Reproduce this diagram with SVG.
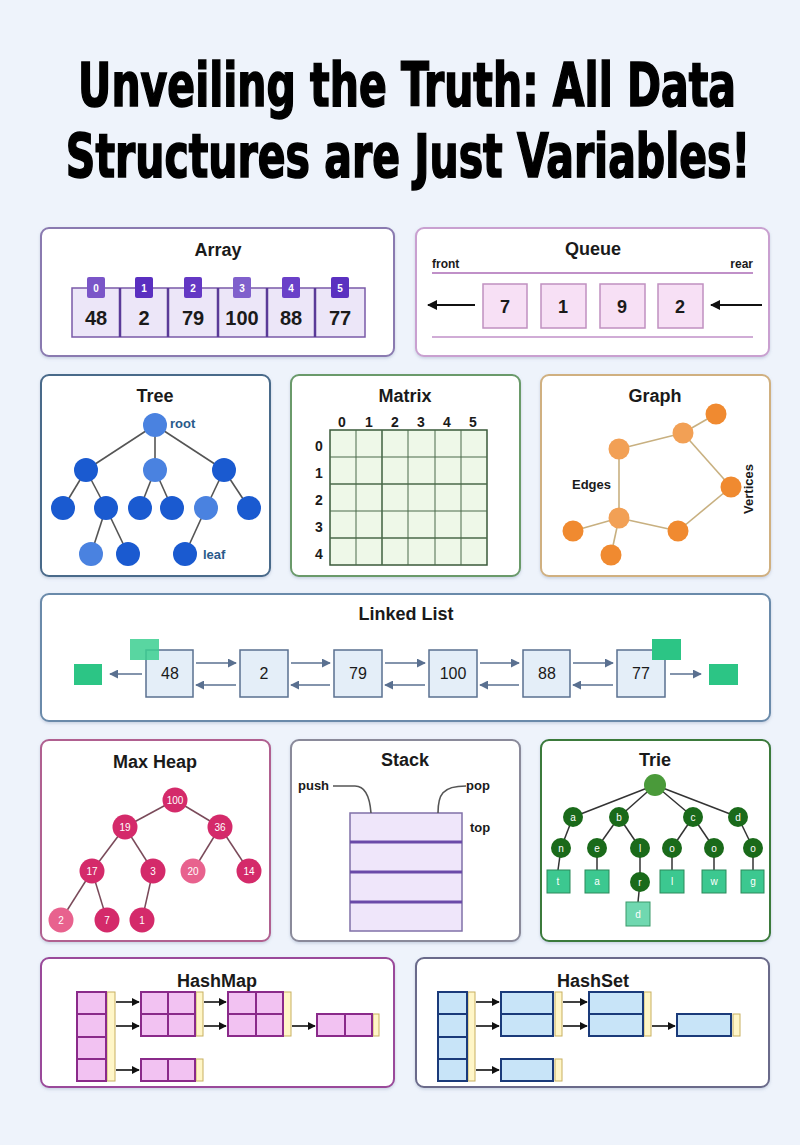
<svg xmlns="http://www.w3.org/2000/svg" width="800" height="1145" viewBox="0 0 800 1145">
<defs>
<style>
.panel{fill:#ffffff;stroke-width:2}
.ttl{font-family:"Liberation Sans",Arial,sans-serif;font-weight:bold;font-size:18px;fill:#1a1a1a;text-anchor:middle}
.lbl{font-family:"Liberation Sans",Arial,sans-serif;font-weight:bold;fill:#1a1a1a}
.mid{text-anchor:middle}
.big{font-family:"DejaVu Sans Condensed","DejaVu Sans",sans-serif;font-weight:bold;font-size:60px;fill:#000;stroke:#000;stroke-width:1.6;text-anchor:middle}
.edge{stroke:#555;stroke-width:1.6;fill:none}
.wt{font-family:"Liberation Sans",Arial,sans-serif;fill:#fff;font-size:10px;text-anchor:middle}
.yel{fill:#fff6c8;stroke:#c8b060;stroke-width:1}
.hm{fill:#f2c2f2;stroke:#8a2a8a;stroke-width:2}
.hs{fill:#c8e4f8;stroke:#1a3a7a;stroke-width:2}
</style>
<marker id="ah" viewBox="0 0 10 10" refX="9" refY="5" markerWidth="6" markerHeight="6" orient="auto-start-reverse"><path d="M0,0 L10,5 L0,10 z" fill="#5a7090"/></marker>
<marker id="ahk" viewBox="0 0 10 10" refX="9" refY="5" markerWidth="5" markerHeight="5" orient="auto-start-reverse"><path d="M0,0 L10,5 L0,10 z" fill="#111"/></marker>
<filter id="sh" x="-5%" y="-5%" width="110%" height="115%"><feDropShadow dx="0" dy="1.5" stdDeviation="1.5" flood-color="#8090b0" flood-opacity="0.35"/></filter>
</defs>
<rect width="800" height="1145" fill="#eef3fb"/>

<g id="title">
<text class="big" transform="translate(407,106) scale(0.76,1)">Unveiling the Truth: All Data</text>
<text class="big" transform="translate(408,177) scale(0.76,1)">Structures are Just Variables!</text>
</g>

<g id="array">
<rect class="panel" x="41" y="228" width="353" height="128" rx="8" stroke="#8a7ab0" filter="url(#sh)"/>
<text class="ttl" x="218" y="256">Array</text>
<rect x="72" y="288" width="293" height="49" fill="#ece6f8" stroke="#7a5aa8" stroke-width="1.5"/>
<g stroke="#5a3a98" stroke-width="2.5">
<line x1="120" y1="288" x2="120" y2="337"/><line x1="168" y1="288" x2="168" y2="337"/><line x1="218" y1="288" x2="218" y2="337"/><line x1="267" y1="288" x2="267" y2="337"/><line x1="315" y1="288" x2="315" y2="337"/>
</g>
<rect x="87" y="277" width="18" height="21" rx="2" fill="#7a55c8"/>
<rect x="135" y="277" width="18" height="21" rx="2" fill="#5a2fc0"/>
<rect x="184" y="277" width="18" height="21" rx="2" fill="#6438c4"/>
<rect x="233" y="277" width="18" height="21" rx="2" fill="#8060cc"/>
<rect x="282" y="277" width="18" height="21" rx="2" fill="#6a40c8"/>
<rect x="331" y="277" width="18" height="21" rx="2" fill="#5a30c0"/>
<g class="wt" font-size="11" font-weight="bold">
<text x="96" y="292">0</text><text x="144" y="292">1</text><text x="193" y="292">2</text><text x="242" y="292">3</text><text x="291" y="292">4</text><text x="340" y="292">5</text>
</g>
<g class="lbl mid" font-size="20">
<text x="96" y="325">48</text><text x="144" y="325">2</text><text x="193" y="325">79</text><text x="242" y="325">100</text><text x="291" y="325">88</text><text x="340" y="325">77</text>
</g>
</g>

<g id="queue">
<rect class="panel" x="416" y="228" width="353" height="128" rx="8" stroke="#c9a0d0" filter="url(#sh)"/>
<text class="ttl" x="593" y="255">Queue</text>
<text class="lbl" x="432" y="268" font-size="12">front</text>
<text class="lbl" x="753" y="268" font-size="12" text-anchor="end">rear</text>
<line x1="432" y1="273" x2="753" y2="273" stroke="#c090c8" stroke-width="2"/>
<line x1="432" y1="337" x2="753" y2="337" stroke="#c090c8" stroke-width="1.5"/>
<g fill="#f7e0f5" stroke="#c090c0" stroke-width="1.5">
<rect x="483" y="284" width="44" height="44"/><rect x="541" y="284" width="45" height="44"/><rect x="600" y="284" width="45" height="44"/><rect x="658" y="284" width="45" height="44"/>
</g>
<g class="lbl mid" font-size="18">
<text x="505" y="313">7</text><text x="563" y="313">1</text><text x="622" y="313">9</text><text x="680" y="313">2</text>
</g>
</g>

<g id="tree">
<rect class="panel" x="41" y="375" width="229" height="201" rx="8" stroke="#4a6a8a" filter="url(#sh)"/>
<text class="ttl" x="155" y="402">Tree</text>
<g class="edge">
<line x1="155" y1="425" x2="86" y2="470"/><line x1="155" y1="425" x2="155" y2="470"/><line x1="155" y1="425" x2="224" y2="470"/>
<line x1="86" y1="470" x2="63" y2="508"/><line x1="86" y1="470" x2="106" y2="508"/>
<line x1="155" y1="470" x2="140" y2="508"/><line x1="155" y1="470" x2="172" y2="508"/>
<line x1="224" y1="470" x2="206" y2="508"/><line x1="224" y1="470" x2="249" y2="508"/>
<line x1="106" y1="508" x2="91" y2="554"/><line x1="106" y1="508" x2="128" y2="554"/>
<line x1="206" y1="508" x2="185" y2="554"/>
</g>
<g fill="#1a5ad0">
<circle cx="86" cy="470" r="12"/><circle cx="224" cy="470" r="12"/>
<circle cx="63" cy="508" r="12"/><circle cx="106" cy="508" r="12"/><circle cx="140" cy="508" r="12"/><circle cx="172" cy="508" r="12"/><circle cx="249" cy="508" r="12"/>
<circle cx="128" cy="554" r="12"/><circle cx="185" cy="554" r="12"/>
</g>
<g fill="#4a82e0">
<circle cx="155" cy="425" r="12"/><circle cx="155" cy="470" r="12"/><circle cx="206" cy="508" r="12"/><circle cx="91" cy="554" r="12"/>
</g>
<text class="lbl" x="170" y="428" font-size="13" style="fill:#2a5a8a">root</text>
<text class="lbl" x="203" y="559" font-size="13" style="fill:#2a5a8a">leaf</text>
</g>

<g id="matrix">
<rect class="panel" x="291" y="375" width="229" height="201" rx="8" stroke="#6a9a6a" filter="url(#sh)"/>
<text class="ttl" x="405" y="402">Matrix</text>
<rect x="330" y="430" width="157" height="135" fill="#eef8e8" stroke="#3a5a3a" stroke-width="1.5"/>
<g stroke="#4a6a4a" stroke-width="1">
<line x1="356" y1="430" x2="356" y2="565"/><line x1="382" y1="430" x2="382" y2="565" stroke-width="1.6"/><line x1="408" y1="430" x2="408" y2="565"/><line x1="435" y1="430" x2="435" y2="565"/><line x1="461" y1="430" x2="461" y2="565"/>
<line x1="330" y1="457" x2="487" y2="457"/><line x1="330" y1="484" x2="487" y2="484" stroke-width="1.6"/><line x1="330" y1="511" x2="487" y2="511"/><line x1="330" y1="538" x2="487" y2="538" stroke-width="1.6"/>
</g>
<g class="lbl mid" font-size="14">
<text x="342" y="427">0</text><text x="369" y="427">1</text><text x="395" y="427">2</text><text x="421" y="427">3</text><text x="447" y="427">4</text><text x="473" y="427">5</text>
<text x="319" y="451">0</text><text x="319" y="478">1</text><text x="319" y="505">2</text><text x="319" y="532">3</text><text x="319" y="559">4</text>
</g>
</g>

<g id="graph">
<rect class="panel" x="541" y="375" width="229" height="201" rx="8" stroke="#d0b080" filter="url(#sh)"/>
<text class="ttl" x="655" y="402">Graph</text>
<g stroke="#c8b080" stroke-width="1.6">
<line x1="716" y1="414" x2="683" y2="433"/><line x1="683" y1="433" x2="619" y2="449"/><line x1="683" y1="433" x2="731" y2="487"/>
<line x1="619" y1="449" x2="619" y2="518"/><line x1="731" y1="487" x2="678" y2="531"/><line x1="678" y1="531" x2="619" y2="518"/>
<line x1="619" y1="518" x2="573" y2="531"/><line x1="619" y1="518" x2="611" y2="555"/>
</g>
<g fill="#f08a30">
<circle cx="716" cy="414" r="10.5"/><circle cx="731" cy="487" r="10.5"/><circle cx="678" cy="531" r="10.5"/><circle cx="573" cy="531" r="10.5"/><circle cx="611" cy="555" r="10.5"/>
</g>
<g fill="#f2a055">
<circle cx="683" cy="433" r="10.5"/><circle cx="619" cy="449" r="10.5"/><circle cx="619" cy="518" r="10.5"/>
</g>
<text class="lbl" x="572" y="489" font-size="13">Edges</text>
<text class="lbl mid" x="0" y="0" font-size="13" transform="translate(753,489) rotate(-90)">Vertices</text>
</g>

<g id="linkedlist">
<rect class="panel" x="41" y="594" width="729" height="127" rx="8" stroke="#6a8aaa" filter="url(#sh)"/>
<text class="ttl" x="406" y="620">Linked List</text>
<g fill="#e4eef8" stroke="#5a7090" stroke-width="1.5">
<rect x="146" y="650" width="47" height="47"/><rect x="240" y="650" width="48" height="47"/><rect x="334" y="650" width="48" height="47"/><rect x="429" y="650" width="48" height="47"/><rect x="523" y="650" width="47" height="47"/><rect x="617" y="650" width="48" height="47"/>
</g>
<rect x="130" y="639" width="29" height="21" fill="#3ccf90" opacity="0.85"/>
<rect x="652" y="639" width="29" height="21" fill="#2cc585"/>
<rect x="74" y="664" width="28" height="21" fill="#2cc585"/>
<rect x="709" y="664" width="29" height="21" fill="#2cc585"/>
<g font-family="Liberation Sans, Arial, sans-serif" font-size="16" text-anchor="middle" fill="#1a1a1a">
<text x="170" y="679">48</text><text x="264" y="679">2</text><text x="358" y="679">79</text><text x="453" y="679">100</text><text x="547" y="679">88</text><text x="641" y="679">77</text>
</g>
<g stroke="#5a7090" stroke-width="1.5" marker-end="url(#ah)">
<line x1="196" y1="663" x2="236" y2="663"/><line x1="291" y1="663" x2="330" y2="663"/><line x1="385" y1="663" x2="425" y2="663"/><line x1="480" y1="663" x2="519" y2="663"/><line x1="573" y1="663" x2="613" y2="663"/>
<line x1="236" y1="685" x2="196" y2="685"/><line x1="330" y1="685" x2="291" y2="685"/><line x1="425" y1="685" x2="385" y2="685"/><line x1="519" y1="685" x2="480" y2="685"/><line x1="613" y1="685" x2="573" y2="685"/>
<line x1="142" y1="674" x2="110" y2="674"/><line x1="670" y1="674" x2="701" y2="674"/>
</g>
</g>

<g id="maxheap">
<rect class="panel" x="41" y="740" width="229" height="201" rx="8" stroke="#b06090" filter="url(#sh)"/>
<text class="ttl" x="155" y="768">Max Heap</text>
<g stroke="#7a4a5a" stroke-width="1.5">
<line x1="175" y1="800" x2="125" y2="827"/><line x1="175" y1="800" x2="220" y2="827"/>
<line x1="125" y1="827" x2="92" y2="871"/><line x1="125" y1="827" x2="153" y2="871"/>
<line x1="220" y1="827" x2="193" y2="871"/><line x1="220" y1="827" x2="249" y2="871"/>
<line x1="92" y1="871" x2="61" y2="920"/><line x1="92" y1="871" x2="107" y2="920"/><line x1="153" y1="871" x2="142" y2="920"/>
</g>
<g fill="#d42a6a">
<circle cx="175" cy="800" r="12.5"/><circle cx="125" cy="827" r="12.5"/><circle cx="220" cy="827" r="12.5"/><circle cx="92" cy="871" r="12.5"/><circle cx="153" cy="871" r="12.5"/><circle cx="249" cy="871" r="12.5"/><circle cx="107" cy="920" r="12.5"/><circle cx="142" cy="920" r="12.5"/>
</g>
<g fill="#e8628e"><circle cx="193" cy="871" r="12.5"/><circle cx="61" cy="920" r="12.5"/></g>
<g class="wt">
<text x="175" y="804">100</text><text x="125" y="831">19</text><text x="220" y="831">36</text><text x="92" y="875">17</text><text x="153" y="875">3</text><text x="193" y="875">20</text><text x="249" y="875">14</text><text x="61" y="924">2</text><text x="107" y="924">7</text><text x="142" y="924">1</text>
</g>
</g>

<g id="stack">
<rect class="panel" x="291" y="740" width="229" height="201" rx="8" stroke="#8a8a9a" filter="url(#sh)"/>
<text class="ttl" x="405" y="766">Stack</text>
<rect x="350" y="813" width="112" height="118" fill="#efe6fa" stroke="#8070a8" stroke-width="1.5"/>
<g stroke="#6a4aa8" stroke-width="3">
<line x1="350" y1="842" x2="462" y2="842"/><line x1="350" y1="872" x2="462" y2="872"/><line x1="350" y1="902" x2="462" y2="902"/>
</g>
<g class="edge" stroke="#333">
<path d="M333,786 L355,786 C367,786 370,800 371,813"/>
<path d="M438,813 C438,795 442,786 466,786"/>
</g>
<text class="lbl" x="298" y="790" font-size="13">push</text>
<text class="lbl" x="466" y="790" font-size="13">pop</text>
<text class="lbl" x="470" y="832" font-size="13">top</text>
</g>

<g id="trie">
<rect class="panel" x="541" y="740" width="229" height="201" rx="8" stroke="#3a7a3a" filter="url(#sh)"/>
<text class="ttl" x="655" y="766">Trie</text>
<g stroke="#333" stroke-width="1.5">
<line x1="655" y1="785" x2="573" y2="817"/><line x1="655" y1="785" x2="619" y2="817"/><line x1="655" y1="785" x2="693" y2="817"/><line x1="655" y1="785" x2="738" y2="817"/>
<line x1="573" y1="817" x2="561" y2="848"/><line x1="619" y1="817" x2="597" y2="848"/><line x1="619" y1="817" x2="640" y2="848"/>
<line x1="693" y1="817" x2="672" y2="848"/><line x1="693" y1="817" x2="714" y2="848"/><line x1="738" y1="817" x2="753" y2="848"/>
<line x1="561" y1="848" x2="558" y2="870"/><line x1="597" y1="848" x2="597" y2="870"/><line x1="640" y1="848" x2="640" y2="882"/><line x1="640" y1="882" x2="638" y2="902"/>
<line x1="672" y1="848" x2="672" y2="870"/><line x1="714" y1="848" x2="714" y2="870"/><line x1="753" y1="848" x2="753" y2="870"/>
</g>
<circle cx="655" cy="785" r="11" fill="#4a9a3a"/>
<g fill="#1a6a1a">
<circle cx="573" cy="817" r="10"/><circle cx="619" cy="817" r="10"/><circle cx="693" cy="817" r="10"/><circle cx="738" cy="817" r="10"/>
<circle cx="561" cy="848" r="10"/><circle cx="597" cy="848" r="10"/><circle cx="640" cy="848" r="10"/><circle cx="672" cy="848" r="10"/><circle cx="714" cy="848" r="10"/><circle cx="753" cy="848" r="10"/>
<circle cx="640" cy="882" r="10"/>
</g>
<g fill="#3cc890" stroke="#2a8a5a" stroke-width="1">
<rect x="547" y="870" width="23" height="23"/><rect x="585" y="870" width="24" height="23"/><rect x="660" y="870" width="24" height="23"/><rect x="702" y="870" width="24" height="23"/><rect x="741" y="870" width="23" height="23"/>
</g>
<rect x="626" y="902" width="24" height="24" fill="#70d8b0" stroke="#3a9a6a" stroke-width="1"/>
<g class="wt">
<text x="573" y="821">a</text><text x="619" y="821">b</text><text x="693" y="821">c</text><text x="738" y="821">d</text>
<text x="561" y="852">n</text><text x="597" y="852">e</text><text x="640" y="852">l</text><text x="672" y="852">o</text><text x="714" y="852">o</text><text x="753" y="852">o</text>
<text x="640" y="886">r</text>
<text x="558" y="885">t</text><text x="597" y="885">a</text><text x="672" y="885">l</text><text x="714" y="885">w</text><text x="753" y="885">g</text>
<text x="638" y="918">d</text>
</g>
</g>

<g id="hashmap">
<rect class="panel" x="41" y="958" width="353" height="129" rx="8" stroke="#9a4a9a" filter="url(#sh)"/>
<text class="ttl" x="217" y="987" font-size="20">HashMap</text>
<g class="yel">
<rect x="107" y="992" width="8" height="89"/><rect x="196" y="992" width="7" height="44"/><rect x="283" y="992" width="8" height="44"/><rect x="373" y="1014" width="6" height="22"/><rect x="196" y="1059" width="7" height="22"/>
</g>
<g class="hm">
<rect x="77" y="992" width="29" height="22"/><rect x="77" y="1014" width="29" height="23"/><rect x="77" y="1037" width="29" height="22"/><rect x="77" y="1059" width="29" height="22"/>
<rect x="141" y="992" width="27" height="22"/><rect x="168" y="992" width="27" height="22"/><rect x="141" y="1014" width="27" height="22"/><rect x="168" y="1014" width="27" height="22"/>
<rect x="228" y="992" width="28" height="22"/><rect x="256" y="992" width="27" height="22"/><rect x="228" y="1014" width="28" height="22"/><rect x="256" y="1014" width="27" height="22"/>
<rect x="317" y="1014" width="28" height="22"/><rect x="345" y="1014" width="27" height="22"/>
<rect x="141" y="1059" width="27" height="22"/><rect x="168" y="1059" width="27" height="22"/>
</g>
<g stroke="#111" stroke-width="1.6" marker-end="url(#ahk)">
<line x1="116" y1="1002" x2="139" y2="1002"/><line x1="116" y1="1026" x2="139" y2="1026"/><line x1="116" y1="1070" x2="139" y2="1070"/>
<line x1="204" y1="1002" x2="226" y2="1002"/><line x1="204" y1="1026" x2="226" y2="1026"/><line x1="292" y1="1026" x2="315" y2="1026"/>
</g>
</g>

<g id="hashset">
<rect class="panel" x="416" y="958" width="353" height="129" rx="8" stroke="#6a6a8a" filter="url(#sh)"/>
<text class="ttl" x="593" y="987" font-size="20">HashSet</text>
<g class="yel">
<rect x="468" y="992" width="7" height="89"/><rect x="555" y="992" width="7" height="44"/><rect x="644" y="992" width="7" height="44"/><rect x="733" y="1014" width="7" height="22"/><rect x="555" y="1059" width="7" height="22"/>
</g>
<g class="hs">
<rect x="438" y="992" width="29" height="22"/><rect x="438" y="1014" width="29" height="23"/><rect x="438" y="1037" width="29" height="22"/><rect x="438" y="1059" width="29" height="22"/>
<rect x="501" y="992" width="52" height="22"/><rect x="501" y="1014" width="52" height="22"/>
<rect x="589" y="992" width="54" height="22"/><rect x="589" y="1014" width="54" height="22"/>
<rect x="677" y="1014" width="54" height="22"/>
<rect x="501" y="1059" width="52" height="22"/>
</g>
<g stroke="#111" stroke-width="1.6" marker-end="url(#ahk)">
<line x1="476" y1="1002" x2="499" y2="1002"/><line x1="476" y1="1026" x2="499" y2="1026"/><line x1="476" y1="1070" x2="499" y2="1070"/>
<line x1="563" y1="1002" x2="587" y2="1002"/><line x1="563" y1="1026" x2="587" y2="1026"/><line x1="652" y1="1026" x2="675" y2="1026"/>
</g>
</g>

<g id="connectors">
<g stroke="#111" stroke-width="2" marker-end="url(#ahk)">
<line x1="475" y1="305" x2="428" y2="305"/>
<line x1="762" y1="305" x2="711" y2="305"/>
</g>
</g>
</svg>
